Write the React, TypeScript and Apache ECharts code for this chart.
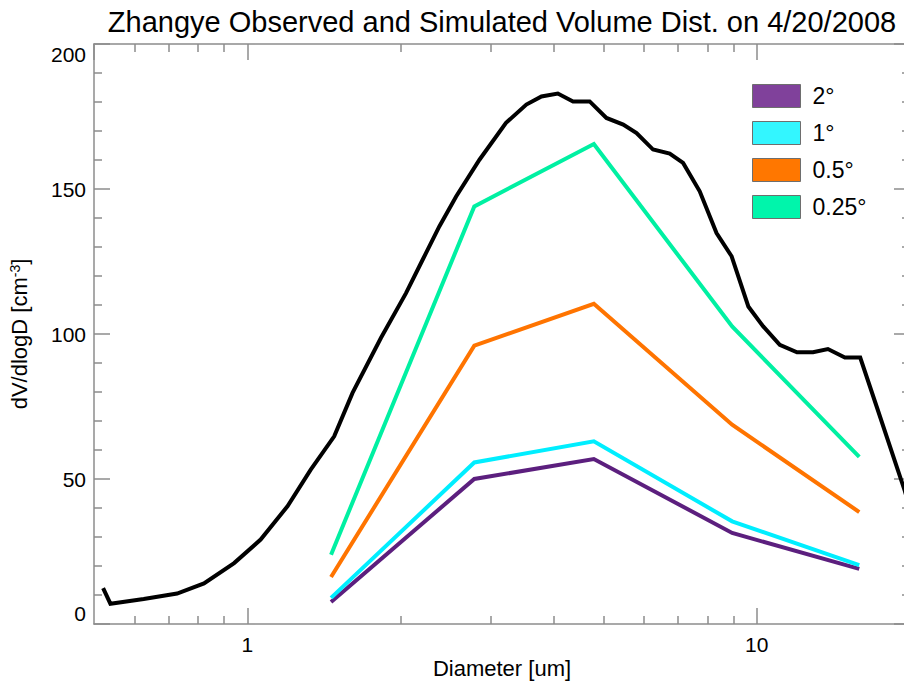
import React, { useEffect, useRef } from "react";
import * as echarts from "echarts";

// Observed volume distribution (black)
const obsDiameter = [0.521, 0.5385, 0.626, 0.728, 0.822, 0.942, 1.062, 1.199, 1.332, 1.481, 1.609, 1.829, 2.049, 2.209, 2.382, 2.57, 2.856, 3.22, 3.53, 3.78, 4.07, 4.36, 4.7, 5.07, 5.47, 5.81, 6.26, 6.75, 7.17, 7.73, 8.34, 8.93, 9.63, 10.3, 11.1, 12.0, 12.9, 13.8, 14.9, 15.97, 17.2, 19.5, 20.5];
const obsVolume = [12.4, 7.0, 8.6, 10.5, 14.0, 21.0, 29.1, 40.6, 53.2, 64.7, 79.7, 98.6, 114.1, 125.6, 137.1, 147.4, 160.1, 172.8, 179.1, 181.9, 182.9, 180.2, 180.2, 174.5, 172.2, 169.3, 163.6, 162.2, 159.0, 149.2, 134.8, 126.8, 109.5, 102.6, 96.3, 93.7, 93.7, 94.8, 91.9, 91.9, 75.0, 46.3, 34.0];

// Simulated
const simDiameter = [1.46, 2.79, 4.79, 8.95, 15.9];
const sim2deg = [7.6, 50.0, 56.9, 31.4, 19.0];
const sim1deg = [9.0, 55.7, 63.0, 35.4, 20.3];
const sim05deg = [16.2, 96.0, 110.4, 68.7, 38.6];
const sim025deg = [23.9, 144.0, 165.5, 102.6, 57.6];

const simNames = ["2°", "1°", "0.5°", "0.25°"];
const simValues = [sim2deg, sim1deg, sim05deg, sim025deg];
const lineColors = ["#5c1f7e", "#00eeff", "#ff7400", "#00f0a2"];
const boxColors = ["#80419b", "#33f6ff", "#ff7700", "#00f5ab"];

const xMin = 0.5;
const xMax = 20;
const minorXTicks = [0.6, 0.7, 0.8, 0.9, 2, 3, 4, 5, 6, 7, 8, 9];
const yMin = 0;
const yMax = 200;
const yInterval = 50;

const FONT = "'Liberation Sans', Arial, Helvetica, sans-serif";
const AXIS_COLOR = "#8c8c8c";

export default function App() {
  const ref = useRef<HTMLDivElement>(null);

  useEffect(() => {
    if (!ref.current) return;
    const chart = echarts.init(ref.current, undefined, { renderer: "svg" });

    const axisLine = { show: true, onZero: false, lineStyle: { color: AXIS_COLOR, width: 1.5 } };
    const majorTick = { show: true, inside: true, length: 16, lineStyle: { color: AXIS_COLOR, width: 1.5 } };
    const minorTickX = {
      show: true,
      inside: true,
      length: 8,
      customValues: minorXTicks.map((v) => Math.log10(v)),
      lineStyle: { color: AXIS_COLOR, width: 1.5 },
    };

    const xLogBase = {
      type: "log" as const,
      logBase: 10,
      min: xMin,
      max: xMax,
      splitLine: { show: false },
    };
    const xMinorBase = {
      type: "value" as const,
      min: Math.log10(xMin),
      max: Math.log10(xMax),
      axisLine: { show: false, onZero: false },
      axisLabel: { show: false },
      splitLine: { show: false },
      axisTick: minorTickX,
    };

    const series: any[] = [
      {
        name: "Observed",
        type: "line",
        data: obsDiameter.map((d, i) => [d, obsVolume[i]]),
        showSymbol: false,
        lineStyle: { color: "#000", width: 4, join: "miter" },
        itemStyle: { color: "#000" },
        z: 2,
      },
    ];
    simNames.forEach((n, k) => {
      series.push({
        name: n,
        type: "line",
        data: simDiameter.map((d, i) => [d, simValues[k][i]]),
        showSymbol: false,
        lineStyle: { color: lineColors[k], width: 4, join: "miter" },
        itemStyle: { color: boxColors[k] },
        z: 3 + k,
      });
    });

    chart.setOption({
      animation: false,
      backgroundColor: "#fff",
      textStyle: { fontFamily: FONT },
      grid: { left: 94, right: -6, top: 44, bottom: 59, containLabel: false, outerBoundsMode: "none" },
      graphic: [
        {
          type: "text",
          x: 502,
          y: 22,
          style: {
            text: "Zhangye Observed and Simulated Volume Dist. on 4/20/2008",
            fontFamily: FONT,
            fontSize: 29,
            fill: "#000",
            textAlign: "center",
            textVerticalAlign: "middle",
          },
        },
      ],
      legend: {
        orient: "vertical",
        left: 752,
        top: 84,
        padding: 0,
        icon: "rect",
        itemWidth: 48,
        itemHeight: 23,
        itemGap: 13,
        data: simNames,
        itemStyle: { borderColor: "#6e6e6e", borderWidth: 1 },
        textStyle: { fontSize: 23, color: "#000", fontFamily: FONT, padding: [0, 0, 0, 7] },
      },
      xAxis: [
        {
          ...xLogBase,
          position: "bottom",
          axisLine,
          axisTick: majorTick,
          axisLabel: {
            color: "#000",
            fontSize: 21,
            margin: 10,
            fontFamily: FONT,
            showMinLabel: false,
            showMaxLabel: false,
          },
          name: "Diameter [um]",
          nameLocation: "middle",
          nameGap: 33,
          nameMoveOverlap: false,
          nameTextStyle: { fontSize: 22, color: "#000", fontFamily: FONT },
        },
        {
          ...xLogBase,
          position: "top",
          axisLine,
          axisTick: majorTick,
          axisLabel: { show: false },
        },
        { ...xMinorBase, position: "bottom" },
        { ...xMinorBase, position: "top" },
      ],
      yAxis: [
        {
          type: "value",
          min: yMin,
          max: yMax,
          interval: yInterval,
          position: "left",
          axisLine,
          axisTick: majorTick,
          minorTick: { show: true, splitNumber: 5, length: 8, lineStyle: { color: AXIS_COLOR, width: 1.5 } },
          splitLine: { show: false },
          minorSplitLine: { show: false },
          axisLabel: {
            color: "#000",
            fontSize: 21,
            margin: 8,
            fontFamily: FONT,
            verticalAlignMinLabel: "bottom",
            verticalAlignMaxLabel: "top",
          },
          name: "dV/dlogD [cm{sup|-3}]",
          nameLocation: "middle",
          nameGap: 64,
          nameMoveOverlap: false,
          nameTextStyle: {
            fontSize: 22,
            color: "#000",
            fontFamily: FONT,
            rich: { sup: { fontSize: 14, verticalAlign: "top", padding: [0, 0, 8, 0], fontFamily: FONT } },
          },
        },
        {
          type: "value",
          min: yMin,
          max: yMax,
          interval: yInterval,
          position: "right",
          axisLine,
          axisTick: majorTick,
          minorTick: { show: true, splitNumber: 5, length: 8, lineStyle: { color: AXIS_COLOR, width: 1.5 } },
          splitLine: { show: false },
          axisLabel: { show: false },
        },
      ],
      series,
    });

    return () => chart.dispose();
  }, []);

  return (
    <div
      ref={ref}
      style={{ position: "fixed", left: 0, top: 0, width: 904, height: 683, background: "#fff" }}
    />
  );
}
